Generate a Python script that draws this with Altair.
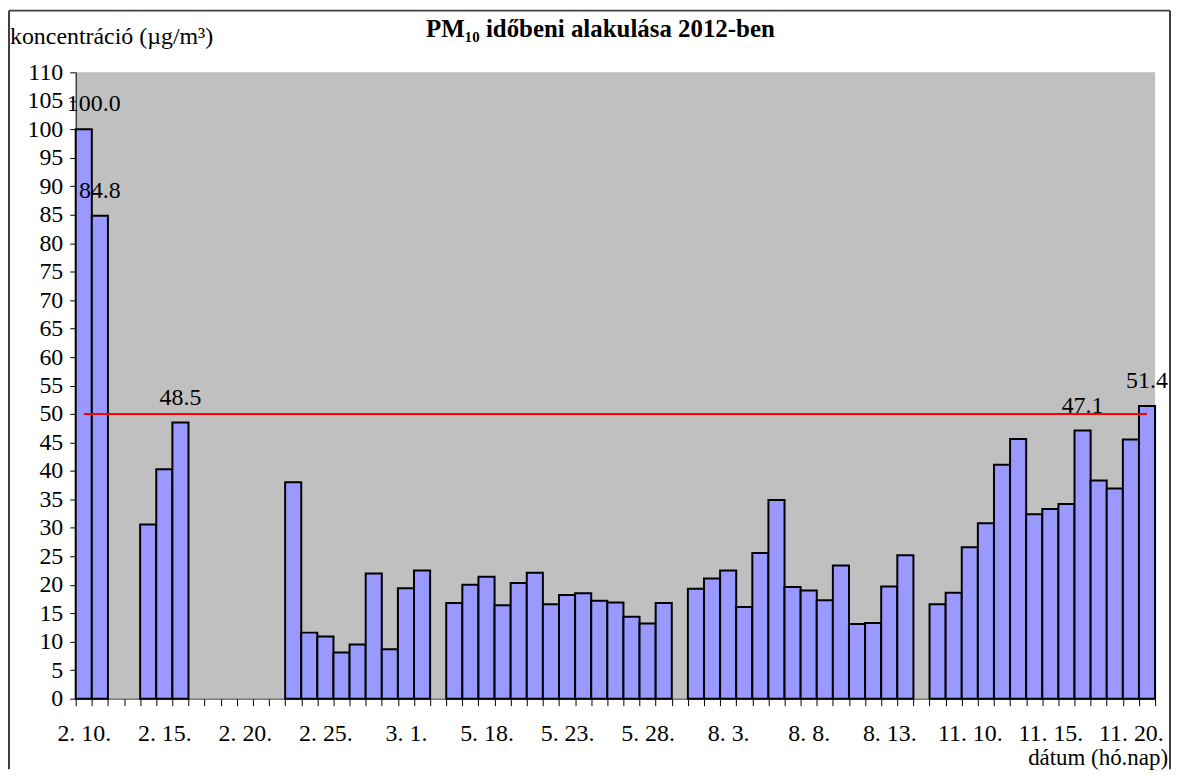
import json
import altair as alt
import pandas as pd

# ---- data ----
dates = [
    "2. 10.", "2. 11.", "2. 12.", "2. 13.", "2. 14.", "2. 15.", "2. 16.", "2. 17.", "2. 18.", "2. 19.",
    "2. 20.", "2. 21.", "2. 22.", "2. 23.", "2. 24.", "2. 25.", "2. 26.", "2. 27.", "2. 28.", "2. 29.",
    "3. 1.", "3. 2.", " ",
    "5. 16.", "5. 17.", "5. 18.", "5. 19.", "5. 20.", "5. 21.", "5. 22.", "5. 23.", "5. 24.", "5. 25.",
    "5. 26.", "5. 27.", "5. 28.", "5. 29.", "  ",
    "8. 1.", "8. 2.", "8. 3.", "8. 4.", "8. 5.", "8. 6.", "8. 7.", "8. 8.", "8. 9.", "8. 10.",
    "8. 11.", "8. 12.", "8. 13.", "8. 14.", "   ",
    "11. 8.", "11. 9.", "11. 10.", "11. 11.", "11. 12.", "11. 13.", "11. 14.", "11. 15.", "11. 16.",
    "11. 17.", "11. 18.", "11. 19.", "11. 20.", "11. 21.",
]
values = [
    100.0, 84.8, None, None, 30.6, 40.3, 48.5, None, None, None,
    None, None, None, 38.0, 11.6, 10.9, 8.1, 9.5, 22.0, 8.7,
    19.4, 22.5, None,
    16.8, 20.0, 21.4, 16.4, 20.3, 22.1, 16.6, 18.2, 18.5, 17.2,
    16.9, 14.4, 13.2, 16.8, None,
    19.3, 21.1, 22.5, 16.1, 25.6, 34.9, 19.6, 19.0, 17.3, 23.4,
    13.1, 13.3, 19.7, 25.2, None,
    16.6, 18.6, 26.6, 30.8, 41.1, 45.6, 32.4, 33.3, 34.2, 47.1,
    38.3, 36.9, 45.5, 51.4,
]
shown_labels = ["2. 10.", "2. 15.", "2. 20.", "2. 25.", "3. 1.", "5. 18.", "5. 23.",
                "5. 28.", "8. 3.", "8. 8.", "8. 13.", "11. 10.", "11. 15.", "11. 20."]
y_ticks = list(range(0, 111, 5))
limit_dates = [dates[0], dates[-1]]
limit_values = [50, 50]
label_threshold = 47

title_text = "PM\u2081\u2080 időbeni alakulása 2012-ben"
y_title_text = "koncentráció (µg/m³)"
x_title_text = "dátum (hó.nap)"

FONT = "Liberation Serif"

df = pd.DataFrame({"date": dates, "value": values})
df_limit = pd.DataFrame({"date": limit_dates, "value": limit_values})

x_scale = alt.Scale(domain=dates, paddingInner=0, paddingOuter=0)
y_scale = alt.Scale(domain=[0, 110], nice=False, zero=True)

label_expr = f"indexof({json.dumps(shown_labels, ensure_ascii=False)}, datum.label) >= 0 ? datum.label : ''"

x_axis = alt.Axis(title=None, tickBand="extent", labelExpr=label_expr, labelAngle=0,
                  labelFont=FONT, labelFontSize=24, labelColor="black",
                  labelOverlap=False, labelBound=False,
                  tickColor="black", tickSize=7, domainColor="#333333", domainWidth=1,
                  labelPadding=16, grid=False)
y_axis = alt.Axis(title=None, values=y_ticks,
                  labelFont=FONT, labelFontSize=24, labelColor="black",
                  tickColor="black", tickSize=6,
                  labelOverlap=False, labelFlush=False,
                  domainColor="black", domainWidth=1, labelPadding=7, grid=False)

x_enc = alt.X("date:N", sort=dates, scale=x_scale, axis=x_axis)
y_enc = alt.Y("value:Q", scale=y_scale, axis=y_axis)

base = alt.Chart(df)

bars = base.mark_bar(fill="#9999FF", stroke="black", strokeWidth=2).encode(x=x_enc, y=y_enc)

limit_line = alt.Chart(df_limit).mark_line(color="#FF0000", strokeWidth=2).encode(
    x=x_enc, y=y_enc)

labels_first = base.transform_filter(
    f"datum.value >= {label_threshold} && datum.date == '{dates[0]}'"
).mark_text(fontSize=24, baseline="alphabetic", dy=-18, dx=10).encode(
    x=x_enc, y=y_enc, text=alt.Text("value:Q", format=".1f"))

labels_rest = base.transform_filter(
    f"datum.value >= {label_threshold} && datum.date != '{dates[0]}'"
).mark_text(fontSize=24, baseline="alphabetic", dy=-18).encode(
    x=x_enc, y=y_enc, text=alt.Text("value:Q", format=".1f"))

title = alt.Chart().mark_text(fontSize=25, fontWeight="bold", align="center",
                              baseline="alphabetic").encode(
    x=alt.value(527), y=alt.value(-36), text=alt.value(title_text))

y_title = alt.Chart().mark_text(fontSize=24, align="left", baseline="alphabetic").encode(
    x=alt.value(-66), y=alt.value(-28), text=alt.value(y_title_text))

x_title = alt.Chart().mark_text(fontSize=23, align="right", baseline="alphabetic").encode(
    x=alt.value(1097), y=alt.value(696), text=alt.value(x_title_text))

frame_left = alt.Chart().mark_rule(color="#404040", strokeWidth=2).encode(
    x=alt.value(-67), y=alt.value(-62), y2=alt.value(700))
frame_top = alt.Chart().mark_rule(color="#404040", strokeWidth=2).encode(
    x=alt.value(-67), x2=alt.value(1099), y=alt.value(-62))
frame_right = alt.Chart().mark_rule(color="#404040", strokeWidth=2).encode(
    x=alt.value(1099), y=alt.value(-62), y2=alt.value(700))

chart = alt.layer(
    bars, limit_line, labels_first, labels_rest, title, y_title, x_title,
    frame_left, frame_top, frame_right
).properties(
    width=1084, height=629,
    padding={"left": 68, "top": 63, "right": 16, "bottom": 70},
    autosize=alt.AutoSizeParams(type="none"),
    background="white",
).configure(
    font=FONT
).configure_view(
    fill="#C0C0C0", stroke=None
).configure_axis(
    labelFont=FONT, labelFontSize=24, labelColor="black"
).configure_text(
    font=FONT, color="black"
)

chart.save("out.html", embed_options={"renderer": "svg", "actions": False})
